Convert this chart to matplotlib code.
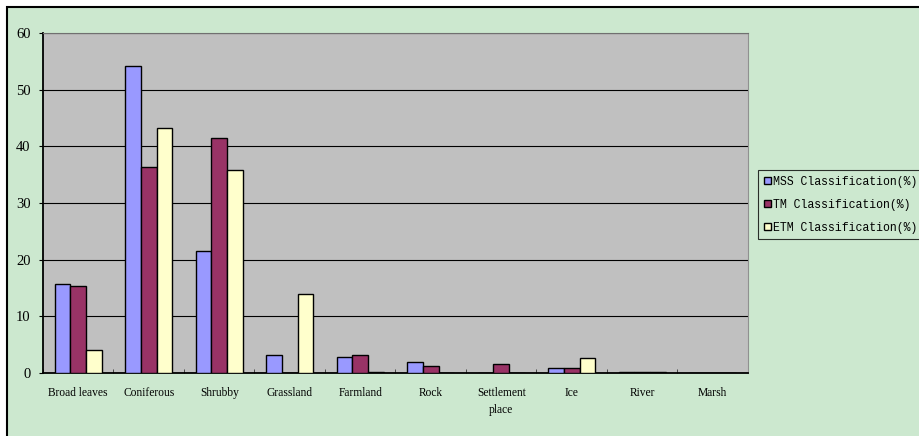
import numpy as np
import matplotlib.pyplot as plt
from matplotlib.patches import Patch, Rectangle

categories = ["Broad leaves", "Coniferous", "Shrubby", "Grassland", "Farmland",
              "Rock", "Settlement\nplace", "Ice", "River", "Marsh"]
mss = [15.7, 54.2, 21.6, 3.1, 2.8, 2.0, 0.0, 0.8, 0.2, 0.0]
tm = [15.4, 36.3, 41.4, 0.0, 3.1, 1.3, 1.6, 0.8, 0.2, 0.0]
etm = [4.0, 43.3, 35.9, 14.0, 0.2, 0.0, 0.0, 2.7, 0.2, 0.0]
series_names = ["MSS Classification(%)", "TM Classification(%)", "ETM Classification(%)"]
colors = ["#9999FF", "#993366", "#FFFFCC"]

fig = plt.figure(figsize=(9.2, 4.36), dpi=100)
fig.patch.set_facecolor("white")
# green chart area with black border (top/left visible)
fig.patches.append(Rectangle((7 / 920, -0.01), 1.0, 1 - 7 / 436 + 0.01,
                             transform=fig.transFigure, facecolor="#CCE8CF",
                             edgecolor="black", linewidth=1.5, zorder=-10))

ax = fig.add_axes([43 / 920, 1 - 373 / 436, 705 / 920, 340 / 436])
ax.set_facecolor("#C0C0C0")

x = np.arange(len(categories))
w = 0.22
for i, (vals, c, name) in enumerate(zip([mss, tm, etm], colors, series_names)):
    ax.bar(x + (i - 1) * w, vals, width=w, color=c, edgecolor="black",
           linewidth=1.0, label=name, zorder=3)

ax.set_xlim(-0.5, len(categories) - 0.5)
ax.set_ylim(0, 60)
ax.set_yticks(range(0, 61, 10))
ax.yaxis.grid(True, color="black", linewidth=0.8, zorder=1)
ax.set_axisbelow(True)

ax.set_xticks(x)
ax.set_xticklabels(categories, fontfamily="Liberation Serif", fontsize=8.3,
                   linespacing=1.6)
ax.set_xticks(np.arange(-0.5, len(categories)), minor=True)
ax.tick_params(axis="x", which="major", length=0, pad=10)
ax.tick_params(axis="x", which="minor", direction="in", length=3, color="#333333")
ax.tick_params(axis="y", direction="out", length=3, pad=6)
for lab in ax.get_yticklabels():
    lab.set_fontfamily("Liberation Serif")
    lab.set_fontsize(10.5)

ax.spines["left"].set_color("black")
ax.spines["bottom"].set_color("black")
ax.spines["left"].set_linewidth(1.3)
ax.spines["bottom"].set_linewidth(1.3)
ax.spines["top"].set_color("#707070")
ax.spines["right"].set_color("#909090")

handles = [Patch(facecolor=c, edgecolor="black", linewidth=1.0) for c in colors]
leg = fig.legend(handles, series_names, loc="upper left",
                 bbox_to_anchor=(758 / 920, 1 - 170 / 436),
                 prop={"family": "Liberation Mono", "size": 8.3},
                 handlelength=0.6, handleheight=0.6, handletextpad=0.2,
                 borderpad=0.5, labelspacing=0.95, borderaxespad=0,
                 frameon=True, fancybox=False)
leg.get_frame().set_facecolor("#CCE8CF")
leg.get_frame().set_edgecolor("black")
leg.get_frame().set_linewidth(0.8)

fig.savefig("out.png", dpi=100)
